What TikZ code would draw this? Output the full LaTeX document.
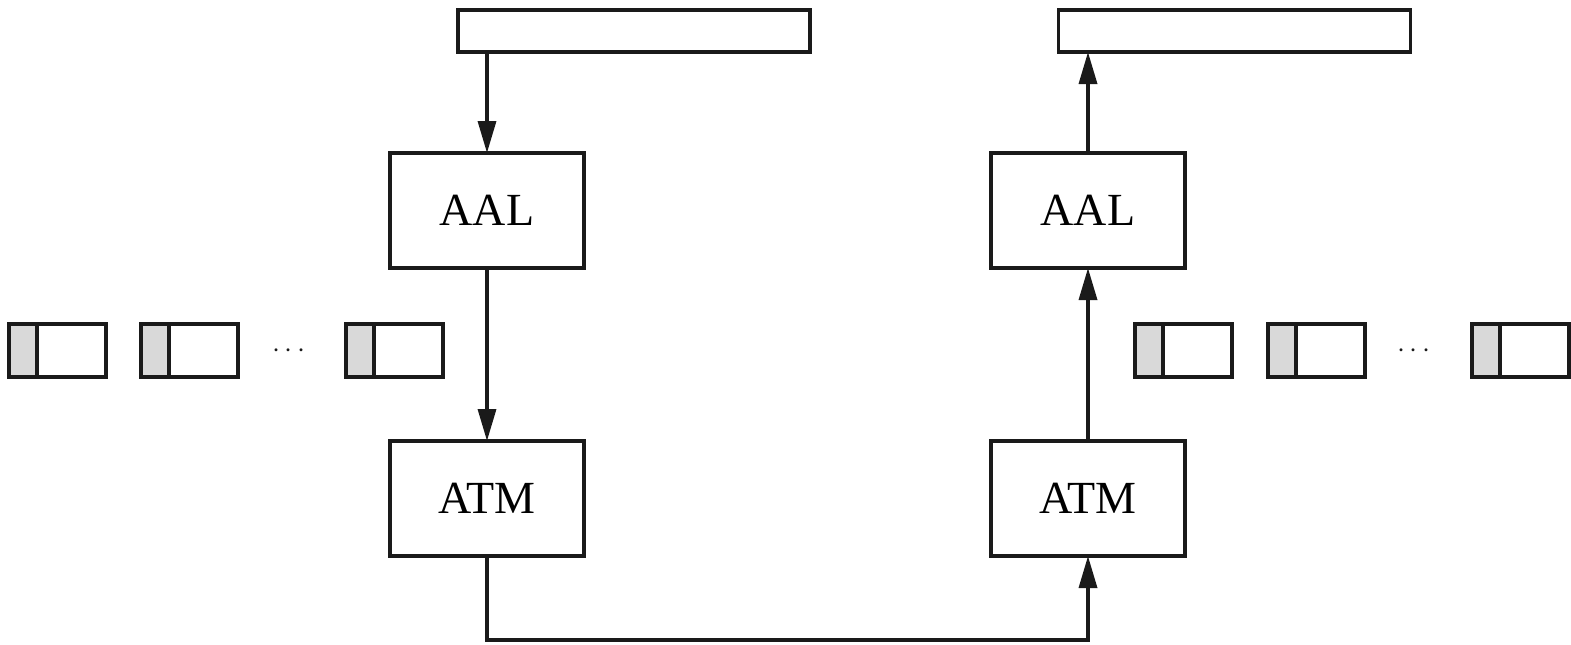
\documentclass[tikz,border=0pt]{standalone}
\usepackage{fontspec}
\setmainfont{Liberation Serif}
\usetikzlibrary{arrows.meta}
\definecolor{cellgray}{HTML}{D9D9D9}
\definecolor{ink}{HTML}{1A1A1A}
\begin{document}
\begin{tikzpicture}[x=0.5pt,y=-0.5pt,
  box/.style={draw=ink, line width=1.7pt, minimum width=97pt, minimum height=57.5pt, inner sep=0pt, outer sep=0pt, font=\fontsize{23}{25}\selectfont},
  bar/.style={draw=ink, line width=1.7pt, minimum width=176pt, minimum height=21pt, inner sep=0pt, outer sep=0pt},
  cell/.style={draw=ink, line width=1.7pt, minimum width=48.5pt, minimum height=26.5pt, inner sep=0pt, outer sep=0pt},
  shade/.style={draw=ink, line width=1.7pt, fill=cellgray},
  arr/.style={draw=ink, line width=1.7pt, -{Triangle[length=16pt,width=9pt]}},
  dots/.style={font=\fontsize{15}{17}\selectfont, text=ink}]
\useasboundingbox (0,0) rectangle (1571,644);
% bars
\node[bar] (barL) at (634,31) {};
\node[bar] (barR) at (1234.5,31) {};
% boxes
\node[box] (aalL) at (487,210.5) {AAL};
\node[box] (atmL) at (487,498.5) {ATM};
\node[box] (aalR) at (1088,210.5) {AAL};
\node[box] (atmR) at (1088,498.5) {ATM};
% connectors
\draw[arr] (barL.south -| aalL) -- (aalL.north);
\draw[arr] (aalL.south) -- (atmL.north);
\coordinate (low) at (0,640);
\draw[arr, line join=miter] (atmL.south) -- (atmL.south |- low) -- (atmR.south |- low) -- (atmR.south);
\draw[arr] (atmR.north) -- (aalR.south);
\draw[arr] (aalR.north) -- (barR.south -| aalR);
% cells
\foreach \n/\cx in {l1/57.5, l2/189.5, l3/394.5, r1/1183.5, r2/1316.5, r3/1520.5} {
  \node[cell] (\n) at (\cx,350.5) {};
  \draw[shade] (\n.north west) rectangle ([xshift=14pt]\n.south west);
}
\node[dots] (dotsL) at (289,351) {$\cdots$};
\node[dots] (dotsR) at (1414,351) {$\cdots$};
\end{tikzpicture}
\end{document}
